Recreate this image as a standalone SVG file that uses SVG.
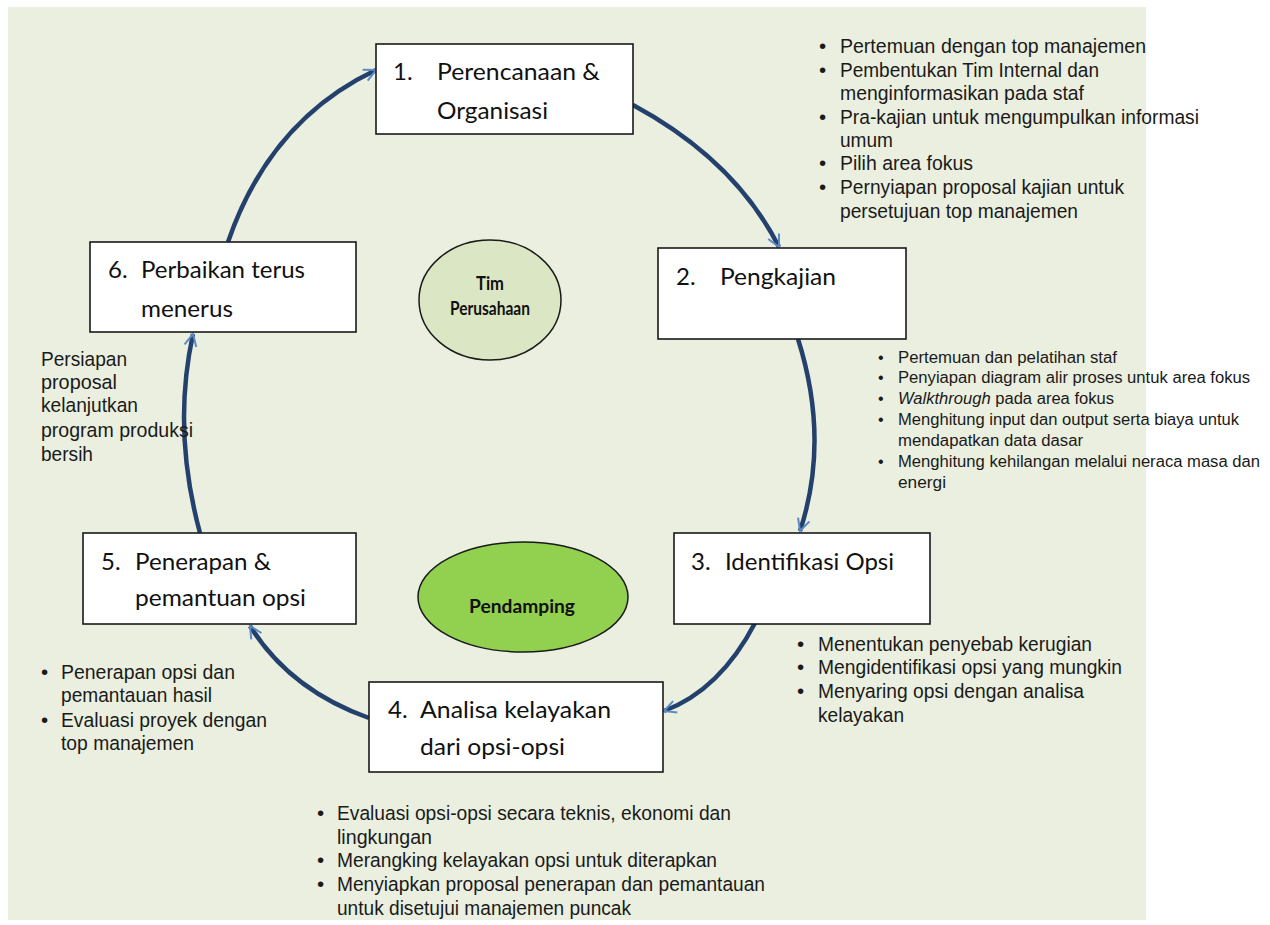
<svg xmlns="http://www.w3.org/2000/svg" width="1270" height="925" viewBox="0 0 1270 925">
<defs>
<marker id="ah" markerUnits="userSpaceOnUse" markerWidth="16" markerHeight="16" refX="13" refY="7" orient="auto">
<path d="M1,1 L13,7 L1,13" fill="none" stroke="#5b8ac6" stroke-width="2"/>
</marker>
</defs>
<style>
.box{fill:#ffffff;stroke:#1a1a1a;stroke-width:1.6}
.bt{font-family:Lato,"Open Sans","Liberation Sans",sans-serif;font-size:24px;fill:#111}
.et{font-family:Lato,"Open Sans","Liberation Sans",sans-serif;font-size:18.5px;font-weight:bold;fill:#111;text-anchor:middle}
.tx{font-family:"Liberation Sans Narrow","Liberation Sans",Arial,sans-serif;font-size:20.5px;fill:#1a1a1a}
.sm{font-family:"Liberation Sans Narrow","Liberation Sans",Arial,sans-serif;font-size:16px;fill:#1a1a1a}
.conn{fill:none;stroke:#23416c;stroke-width:4.5;marker-end:url(#ah)}
</style>
<rect x="0" y="0" width="1270" height="925" fill="#ffffff"/>
<rect x="8" y="7" width="1138" height="913" fill="#eaefdf"/>

<g id="connectors">
<path class="conn" d="M228,242 Q270,120 376,70"/>
<path class="conn" d="M633,105 Q735,160 779,247"/>
<path class="conn" d="M798,339 Q830,440 800,531"/>
<path class="conn" d="M755,623 Q720,690 664,711"/>
<path class="conn" d="M369,718 Q290,690 250,626"/>
<path class="conn" d="M200,533 Q172,430 193,334"/>
</g>

<g id="node-tim">
<ellipse cx="490" cy="300" rx="71" ry="60" fill="#dbe6c4" stroke="#1a1a1a" stroke-width="1.5"/>
<text class="et" x="490" y="290" textLength="28" lengthAdjust="spacingAndGlyphs">Tim</text>
<text class="et" x="490" y="315" textLength="80" lengthAdjust="spacingAndGlyphs">Perusahaan</text>
</g>
<g id="node-pendamping">
<ellipse cx="523" cy="597" rx="105" ry="55" fill="#92d050" stroke="#1a1a1a" stroke-width="1.5"/>
<text class="et" x="522" y="613" textLength="106" lengthAdjust="spacingAndGlyphs">Pendamping</text>
</g>

<g id="node-1">
<rect class="box" x="376" y="44" width="257" height="90"/>
<text class="bt" x="393" y="80">1.</text>
<text class="bt" x="437" y="80" textLength="163" lengthAdjust="spacingAndGlyphs">Perencanaan &amp;</text>
<text class="bt" x="437" y="119" textLength="111" lengthAdjust="spacingAndGlyphs">Organisasi</text>
</g>
<g id="node-2">
<rect class="box" x="658" y="248" width="248" height="91"/>
<text class="bt" x="676" y="285">2.</text>
<text class="bt" x="720" y="285" textLength="116" lengthAdjust="spacingAndGlyphs">Pengkajian</text>
</g>
<g id="node-3">
<rect class="box" x="674" y="533" width="256" height="91"/>
<text class="bt" x="691" y="570">3.</text>
<text class="bt" x="725" y="570" textLength="169" lengthAdjust="spacingAndGlyphs">Identifikasi Opsi</text>
</g>
<g id="node-4">
<rect class="box" x="369" y="682" width="294" height="90"/>
<text class="bt" x="388" y="718">4.</text>
<text class="bt" x="420" y="718" textLength="191" lengthAdjust="spacingAndGlyphs">Analisa kelayakan</text>
<text class="bt" x="420" y="755" textLength="145" lengthAdjust="spacingAndGlyphs">dari opsi-opsi</text>
</g>
<g id="node-5">
<rect class="box" x="83" y="533" width="273" height="91"/>
<text class="bt" x="101" y="570">5.</text>
<text class="bt" x="135" y="570" textLength="136" lengthAdjust="spacingAndGlyphs">Penerapan &amp;</text>
<text class="bt" x="135" y="606" textLength="171" lengthAdjust="spacingAndGlyphs">pemantuan opsi</text>
</g>
<g id="node-6">
<rect class="box" x="90" y="242" width="266" height="90"/>
<text class="bt" x="108" y="278">6.</text>
<text class="bt" x="141" y="278" textLength="164" lengthAdjust="spacingAndGlyphs">Perbaikan terus</text>
<text class="bt" x="141" y="317" textLength="92" lengthAdjust="spacingAndGlyphs">menerus</text>
</g>

<g id="notes-1">
<text class="tx" x="819" y="53">•</text><text class="tx" x="840" y="53" textLength="306" lengthAdjust="spacingAndGlyphs">Pertemuan dengan  top manajemen</text>
<text class="tx" x="819" y="77">•</text><text class="tx" x="840" y="77" textLength="259" lengthAdjust="spacingAndGlyphs">Pembentukan Tim Internal dan</text>
<text class="tx" x="840" y="100" textLength="244" lengthAdjust="spacingAndGlyphs">menginformasikan pada staf</text>
<text class="tx" x="819" y="124">•</text><text class="tx" x="840" y="124" textLength="359" lengthAdjust="spacingAndGlyphs">Pra-kajian untuk mengumpulkan informasi</text>
<text class="tx" x="840" y="147" textLength="53" lengthAdjust="spacingAndGlyphs">umum</text>
<text class="tx" x="819" y="170">•</text><text class="tx" x="840" y="170" textLength="133" lengthAdjust="spacingAndGlyphs">Pilih area fokus</text>
<text class="tx" x="819" y="194">•</text><text class="tx" x="840" y="194" textLength="284" lengthAdjust="spacingAndGlyphs">Pernyiapan proposal kajian untuk</text>
<text class="tx" x="840" y="218" textLength="238" lengthAdjust="spacingAndGlyphs">persetujuan top manajemen</text>
</g>

<g id="notes-2">
<text class="sm" x="878" y="363">•</text><text class="sm" x="898" y="363" textLength="219" lengthAdjust="spacingAndGlyphs">Pertemuan dan pelatihan staf</text>
<text class="sm" x="878" y="383">•</text><text class="sm" x="898" y="383" textLength="352" lengthAdjust="spacingAndGlyphs">Penyiapan diagram alir proses untuk area fokus</text>
<text class="sm" x="878" y="404">•</text><text class="sm" x="898" y="404" textLength="216" lengthAdjust="spacingAndGlyphs"><tspan font-style="italic">Walkthrough</tspan> pada area fokus</text>
<text class="sm" x="878" y="425">•</text><text class="sm" x="898" y="425" textLength="341" lengthAdjust="spacingAndGlyphs">Menghitung input dan output serta biaya untuk</text>
<text class="sm" x="898" y="446" textLength="185" lengthAdjust="spacingAndGlyphs">mendapatkan data dasar</text>
<text class="sm" x="878" y="467">•</text><text class="sm" x="898" y="467" textLength="362" lengthAdjust="spacingAndGlyphs">Menghitung kehilangan melalui neraca masa dan</text>
<text class="sm" x="898" y="488" textLength="48" lengthAdjust="spacingAndGlyphs">energi</text>
</g>

<g id="notes-3">
<text class="tx" x="797" y="651">•</text><text class="tx" x="818" y="651" textLength="274" lengthAdjust="spacingAndGlyphs">Menentukan penyebab kerugian</text>
<text class="tx" x="797" y="674">•</text><text class="tx" x="818" y="674" textLength="304" lengthAdjust="spacingAndGlyphs">Mengidentifikasi opsi yang mungkin</text>
<text class="tx" x="797" y="698">•</text><text class="tx" x="818" y="698" textLength="266" lengthAdjust="spacingAndGlyphs">Menyaring opsi dengan analisa</text>
<text class="tx" x="818" y="722" textLength="86" lengthAdjust="spacingAndGlyphs">kelayakan</text>
</g>

<g id="notes-4">
<text class="tx" x="317" y="820">•</text><text class="tx" x="337" y="820" textLength="394" lengthAdjust="spacingAndGlyphs">Evaluasi opsi-opsi secara teknis, ekonomi dan</text>
<text class="tx" x="337" y="844" textLength="95" lengthAdjust="spacingAndGlyphs">lingkungan</text>
<text class="tx" x="317" y="867">•</text><text class="tx" x="337" y="867" textLength="380" lengthAdjust="spacingAndGlyphs">Merangking kelayakan opsi untuk diterapkan</text>
<text class="tx" x="317" y="891">•</text><text class="tx" x="337" y="891" textLength="428" lengthAdjust="spacingAndGlyphs">Menyiapkan proposal penerapan dan pemantauan</text>
<text class="tx" x="337" y="915" textLength="294" lengthAdjust="spacingAndGlyphs">untuk disetujui manajemen puncak</text>
</g>

<g id="notes-5">
<text class="tx" x="41" y="679">•</text><text class="tx" x="61" y="679" textLength="174" lengthAdjust="spacingAndGlyphs">Penerapan opsi dan</text>
<text class="tx" x="61" y="702" textLength="151" lengthAdjust="spacingAndGlyphs">pemantauan hasil</text>
<text class="tx" x="41" y="727">•</text><text class="tx" x="61" y="727" textLength="206" lengthAdjust="spacingAndGlyphs">Evaluasi proyek dengan</text>
<text class="tx" x="61" y="750" textLength="133" lengthAdjust="spacingAndGlyphs">top manajemen</text>
</g>

<g id="notes-6">
<text class="tx" x="41" y="366" textLength="86" lengthAdjust="spacingAndGlyphs">Persiapan</text>
<text class="tx" x="41" y="389" textLength="76" lengthAdjust="spacingAndGlyphs">proposal</text>
<text class="tx" x="41" y="412" textLength="97" lengthAdjust="spacingAndGlyphs">kelanjutkan</text>
<text class="tx" x="41" y="437" textLength="152" lengthAdjust="spacingAndGlyphs">program produksi</text>
<text class="tx" x="41" y="461" textLength="52" lengthAdjust="spacingAndGlyphs">bersih</text>
</g>
</svg>
